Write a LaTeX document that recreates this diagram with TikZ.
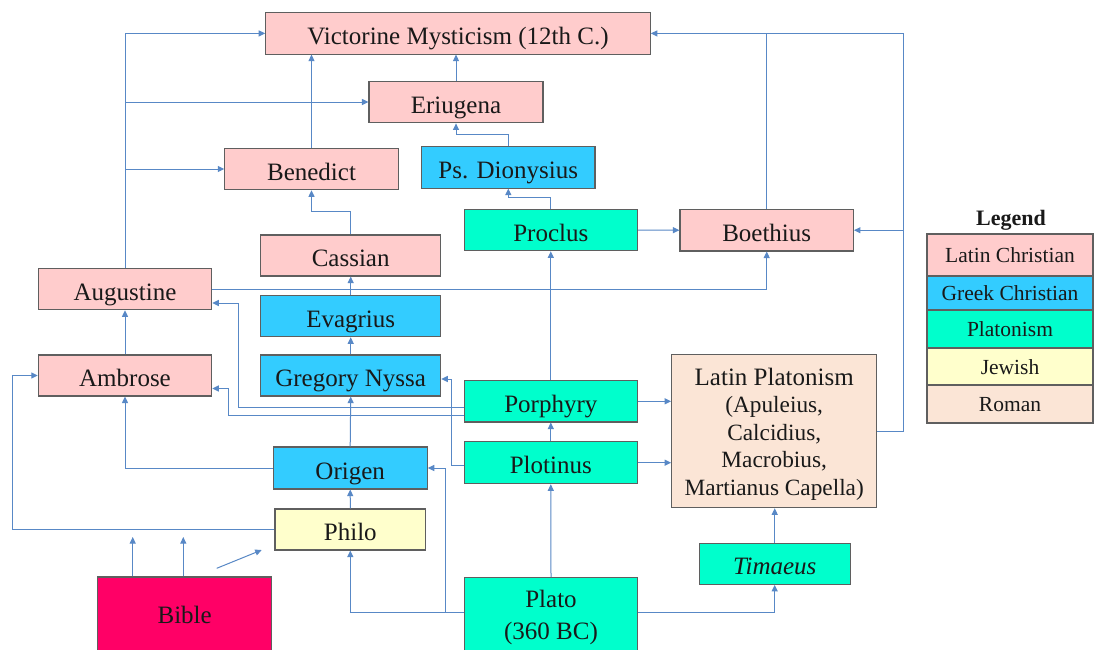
\documentclass[tikz,border=0pt]{standalone}
\usepackage{fontspec}
\setmainfont{Liberation Serif}
\usetikzlibrary{arrows.meta,calc}
\definecolor{latinc}{RGB}{255,204,204}
\definecolor{greekc}{RGB}{51,204,255}
\definecolor{platc}{RGB}{0,255,204}
\definecolor{jewc}{RGB}{255,255,204}
\definecolor{romc}{RGB}{251,229,214}
\definecolor{biblec}{RGB}{255,0,102}
\definecolor{linec}{RGB}{88,136,198}
\definecolor{bordc}{RGB}{95,95,95}
\definecolor{txtc}{RGB}{25,25,25}
\tikzset{
  boxbase/.style={draw=bordc, line width=1.1pt, inner sep=0pt, align=center, text=txtc,
    font=\fontsize{25}{29}\selectfont},
  box/.style={boxbase, text height=24pt, text depth=2pt},
  w173/.style={minimum width=173.4pt, minimum height=41.5pt},
  w180/.style={minimum width=180pt, minimum height=41pt},
  lat/.style={box, fill=latinc},
  grk/.style={box, fill=greekc},
  pla/.style={box, fill=platc},
  jew/.style={box, fill=jewc},
  rom/.style={boxbase, fill=romc},
  txt/.style={inner sep=0pt, align=center, text=txtc},
  legbox/.style={draw=bordc, line width=1.1pt, inner sep=0pt, minimum width=166pt,
    text=txtc, font=\fontsize{21.5}{24}\selectfont, text height=16pt, text depth=0.4pt},
  arr/.style={draw=linec, line width=1pt, -{Triangle[length=6.5pt,width=6pt]}},
  ln/.style={draw=linec, line width=1pt},
}
\begin{document}
\begin{tikzpicture}[x=1pt,y=-1pt]
\clip (0,0) rectangle (1094,649);
\fill[white] (0,0) rectangle (1094,649);
% nodes
\node[lat, minimum width=384.5pt, minimum height=41.3pt] (vict) at (458,33.4) {Victorine Mysticism (12th C.)};
\node[lat, minimum width=174pt, minimum height=41.7pt] (eri) at (456,102) {Eriugena};
\node[lat, w173] (bene) at (311.5,169) {Benedict};
\node[grk, w173, minimum height=41.3pt] (psd) at (508.3,167.4) {Ps. Dionysius};
\node[pla, w173] (proc) at (550.8,230) {Proclus};
\node[lat, w173] (boe) at (766.7,230.2) {Boethius};
\node[lat, w180] (cass) at (350.7,255.5) {Cassian};
\node[lat, w173] (aug) at (125,289) {Augustine};
\node[grk, w180] (evag) at (350.7,316.2) {Evagrius};
\node[lat, w173, minimum height=41pt] (ambr) at (125,375.5) {Ambrose};
\node[grk, w180] (greg) at (350.7,375.5) {Gregory Nyssa};
\node[pla, w173, minimum height=41.3pt] (porph) at (550.8,401.3) {Porphyry};
\node[pla, w173, minimum height=42pt] (plot) at (550.8,462.7) {Plotinus};
\node[rom, minimum width=205pt, minimum height=153.4pt] (latp) at (774.2,431) {};
\node[txt, font=\fontsize{23.3}{27.6}\selectfont] (latpt) at (774.2,434)
  {{\fontsize{25}{27.6}\selectfont Latin Platonism}\\(Apuleius,\\Calcidius,\\Macrobius,\\Martianus Capella)};
\node[grk, minimum width=154pt, minimum height=42pt] (orig) at (350.2,468) {Origen};
\node[jew, minimum width=150.7pt, minimum height=41pt] (philo) at (350.3,529.5) {Philo};
\node[pla, minimum width=150.7pt, minimum height=41pt, font=\fontsize{25}{29}\itshape] (tim) at (774.7,563.8) {Timaeus};
\node[boxbase, fill=platc, w173, minimum height=76pt] (plato) at (551,615.7) {};
\node[txt, font=\fontsize{25}{32}\selectfont] (platot) at (551,617) {Plato\\(360 BC)};
\node[boxbase, fill=biblec, minimum width=174pt, minimum height=78pt, text height=16pt, text depth=2pt] (bible) at (184.7,616) {Bible};
% legend
\node[text=txtc, inner sep=0pt, font=\fontsize{22}{24}\selectfont\bfseries] (legt) at (1011,220.5) {Legend};
\node[legbox, fill=latinc, minimum height=42pt] (l1) at (1010,255) {Latin Christian};
\node[legbox, fill=greekc, minimum height=34pt] (l2) at (1010,293) {Greek Christian};
\node[legbox, fill=platc, minimum height=38pt] (l3) at (1010,329) {Platonism};
\node[legbox, fill=jewc, minimum height=37pt] (l4) at (1010,366.5) {Jewish};
\node[legbox, fill=romc, minimum height=38pt] (l5) at (1010,404) {Roman};
% coordinates
\coordinate (b1) at (132.7,537);
\coordinate (b2) at (183.3,537);
\coordinate (d1) at (216.7,568.3);
\coordinate (d2) at (261.7,550);
% connectors
\draw[arr] (eri.north) -- (eri.north |- vict.south);
\draw[arr] (bene.north) -- (bene.north |- vict.south);
\draw[arr] (psd.north) -- ++(0,-12) -| (eri.south);
\draw[arr] (proc.north) -- ++(0,-11) -| (psd.south);
\draw[arr] (proc.east) -- (boe.west);
\draw[ln] (boe.north) -- (boe.north |- vict.east);
\draw[arr] (latp.east) -- ++(26,0) |- (vict.east);
\draw[arr] (latp.east) ++(26,0) |- (boe.east);
\draw[arr] (aug.east) -| (boe.south);
\draw[arr] (aug.north) |- (vict.west);
\draw[arr] (aug.north |- eri.west) -- (eri.west);
\draw[arr] (aug.north |- bene.west) -- (bene.west);
\draw[arr] (ambr.north) -- (aug.south);
\draw[arr] (orig.west) -| (ambr.south);
\draw[arr] (philo.west) -- ++(-262,0) |- (ambr.west);
\draw[arr] (bible.north -| b1) -- (b1);
\draw[arr] (bible.north -| b2) -- (b2);
\draw[arr] (d1) -- (d2);
\draw[arr] (philo.north) -- (orig.south);
\draw[arr] ([yshift=3pt]plato.west) -| (philo.south);
\draw[arr] ([yshift=3pt]plato.west) -- ++(-18,0) |- (orig.east);
\draw[arr] (plato.north) -- (plot.south);
\draw[arr] ([yshift=3pt]plato.east) -| (tim.south);
\draw[arr] (tim.north) -- (tim.north |- latp.south);
\draw[arr] (plot.north) -- (porph.south);
\draw[arr] (plot.east) -- (plot.east -| latp.west);
\draw[arr] (porph.east) -- (porph.east -| latp.west);
\draw[arr] (porph.north) -- (proc.south);
\draw[arr] ([yshift=-3pt]plot.west) -- ++(-12,0) |- ([yshift=-3.5pt]greg.east);
\draw[arr] ([yshift=-6pt]porph.west) -- ++(-225,0) |- ([yshift=-14pt]aug.east);
\draw[arr] ([yshift=-13.7pt]porph.west) -- ++(-235,0) |- ([yshift=-13pt]ambr.east);
\draw[arr] (orig.north) -- (greg.south);
\draw[arr] (greg.north) -- (evag.south);
\draw[arr] (evag.north) -- (cass.south);
\draw[arr] (cass.north) -- ++(0,-22.7) -| (bene.south);
\end{tikzpicture}
\end{document}
